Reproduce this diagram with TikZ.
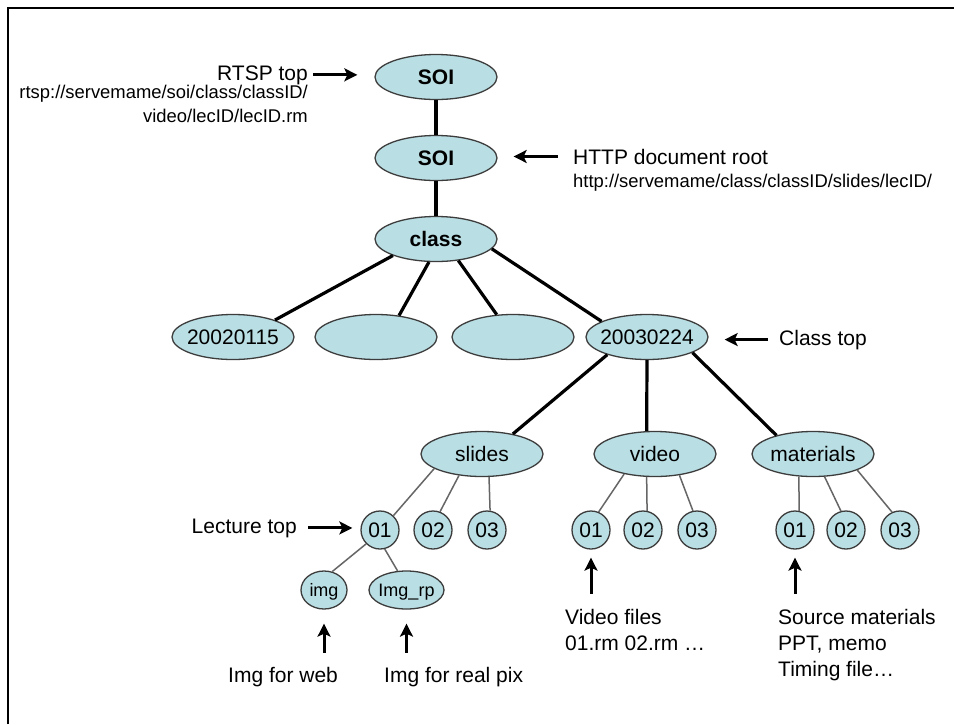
\documentclass[tikz,border=0pt]{standalone}
\usepackage{fontspec}
\setmainfont{Liberation Sans}
\usetikzlibrary{shapes.geometric,arrows.meta}
\definecolor{nodefill}{RGB}{185,222,227}
\definecolor{nodeline}{RGB}{60,60,60}
\newcommand{\mytxt}[1]{\makebox[0pt]{#1}}
\begin{document}
\begin{tikzpicture}[x=1pt,y=-1pt,
  ell/.style={ellipse, draw=nodeline, line width=1.3pt, fill=nodefill,
    minimum width=122pt, minimum height=45pt, inner sep=0pt,
    text height=15pt, text depth=0pt, font=\fontsize{21}{25}\selectfont},
  bell/.style={ell, font=\fontsize{21}{25}\selectfont\bfseries},
  circ/.style={circle, draw=nodeline, line width=1.3pt, fill=nodefill,
    minimum size=38pt, inner sep=0pt, text height=15pt, text depth=0pt,
    font=\fontsize{21}{25}\selectfont},
  smell/.style={ellipse, draw=nodeline, line width=1.3pt, fill=nodefill,
    minimum height=38pt, inner sep=0pt, text height=13pt, text depth=0pt,
    font=\fontsize{18}{22}\selectfont},
  thickline/.style={line width=3.2pt},
  thinline/.style={line width=1.5pt, draw=black!60},
  arr/.style={line width=3pt, -{Stealth[length=13pt,width=13pt,inset=3pt]}},
  lbl/.style={inner sep=0pt, font=\fontsize{21}{25}\selectfont},
  url/.style={inner sep=0pt, font=\fontsize{18.4}{23}\selectfont}
]
\useasboundingbox (0,0) rectangle (954,724);
\fill[white] (0,0) rectangle (954,724);
\coordinate (fa) at (8,724);
\coordinate (fb) at (8,8);
\coordinate (fc) at (954,8);
\draw[line width=2.2pt] (fa) -- (fb) -- (fc);

% tree nodes
\node[bell] (soi1) at (436,77) {\mytxt{SOI}};
\node[bell] (soi2) at (436,158) {\mytxt{SOI}};
\node[bell] (cls) at (436,239) {\mytxt{class}};
\node[ell] (d1) at (233,337) {\mytxt{20020115}};
\node[ell] (d2) at (376,337) {};
\node[ell] (d3) at (513,337) {};
\node[ell] (d4) at (647,337) {\mytxt{20030224}};
\node[ell] (sl) at (482,454) {\mytxt{slides}};
\node[ell] (vi) at (655,454) {\mytxt{video}};
\node[ell] (ma) at (813,454) {\mytxt{materials}};
\node[circ] (s1) at (380,530) {\mytxt{01}};
\node[circ] (s2) at (433,530) {\mytxt{02}};
\node[circ] (s3) at (487,530) {\mytxt{03}};
\node[circ] (v1) at (591,530) {\mytxt{01}};
\node[circ] (v2) at (643,530) {\mytxt{02}};
\node[circ] (v3) at (697,530) {\mytxt{03}};
\node[circ] (m1) at (795,530) {\mytxt{01}};
\node[circ] (m2) at (846,530) {\mytxt{02}};
\node[circ] (m3) at (900,530) {\mytxt{03}};
\node[smell, minimum width=46pt] (im) at (324,590) {\mytxt{img}};
\node[smell, minimum width=75pt] (ir) at (406.5,590) {\mytxt{Img\_rp}};

% thick connectors
\draw[thickline] (soi1) -- (soi2);
\draw[thickline] (soi2) -- (cls);
\draw[thickline] (cls.201) -- (d1.22);
\draw[thickline] (cls.253) -- (d2.43);
\draw[thickline] (cls.316) -- (d3.126);
\draw[thickline] (cls.350) -- (d4.161);
\draw[thickline] (d4.204) -- (sl.33);
\draw[thickline] (d4.270) -- (vi.110);
\draw[thickline] (d4.341) -- (ma.153);

% thin connectors
\draw[thinline] (sl.197) -- (s1.47);
\draw[thinline] (sl.223) -- (s2.69);
\draw[thinline] (sl.287) -- (s3.81);
\draw[thinline] (vi.213) -- (v1.67);
\draw[thinline] (vi.250) -- (v2.78);
\draw[thinline] (vi.319) -- (v3.102);
\draw[thinline] (ma.238) -- (m1.78);
\draw[thinline] (ma.297) -- (m2.105);
\draw[thinline] (ma.340) -- (m3.114);
\draw[thinline] (s1.225) -- (im.66);
\draw[thinline] (s1.284) -- (ir.115);

% labels
\node[lbl, anchor=base east] (rtsp) at (308,80) {RTSP top};
\node[url, anchor=base east] (rtspu1) at (308,98) {rtsp://servemame/soi/class/classID/};
\node[url, anchor=base east] (rtspu2) at (308,122) {video/lecID/lecID.rm};
\draw[arr, shorten <=5pt, shorten >=17pt] (rtsp.east) -- (rtsp.east -| soi1.west);

\node[lbl, anchor=base west] (http) at (573,164) {HTTP document root};
\node[url, anchor=base west] (httpu) at (573,187) {http://servemame/class/classID/slides/lecID/};
\draw[arr, shorten <=15pt, shorten >=16pt] (http.west) -- (http.west -| soi2.east);

\node[lbl, anchor=base west] (ctop) at (779,345) {Class top};
\draw[arr, shorten <=11pt, shorten >=16pt] (ctop.west) -- (ctop.west -| d4.east);

\node[lbl, anchor=base east] (ltop) at (297,533) {Lecture top};
\draw[arr, shorten <=11pt, shorten >=8pt] (ltop.east) -- (ltop.east -| s1.west);

\node[lbl, anchor=base west] (iweb) at (228,682) {Img for web};
\draw[arr, shorten <=14pt, shorten >=14pt] (im.south |- iweb.north) -- (im.south);

\node[lbl, anchor=base west] (ireal) at (384,682) {Img for real pix};
\draw[arr, shorten <=14pt, shorten >=14pt] (ir.south |- ireal.north) -- (ir.south);

\node[lbl, anchor=base west] (vf1) at (565,624) {Video files};
\node[lbl, anchor=base west] (vf2) at (565,650) {01.rm 02.rm …};
\draw[arr, shorten <=15pt, shorten >=8pt] (v1.south |- vf1.north) -- (v1.south);

\node[lbl, anchor=base west] (sm1) at (778,624) {Source materials};
\node[lbl, anchor=base west] (sm2) at (778,650) {PPT, memo};
\node[lbl, anchor=base west] (sm3) at (778,676) {Timing file…};
\draw[arr, shorten <=15pt, shorten >=8pt] (m1.south |- sm1.north) -- (m1.south);
\end{tikzpicture}
\end{document}
